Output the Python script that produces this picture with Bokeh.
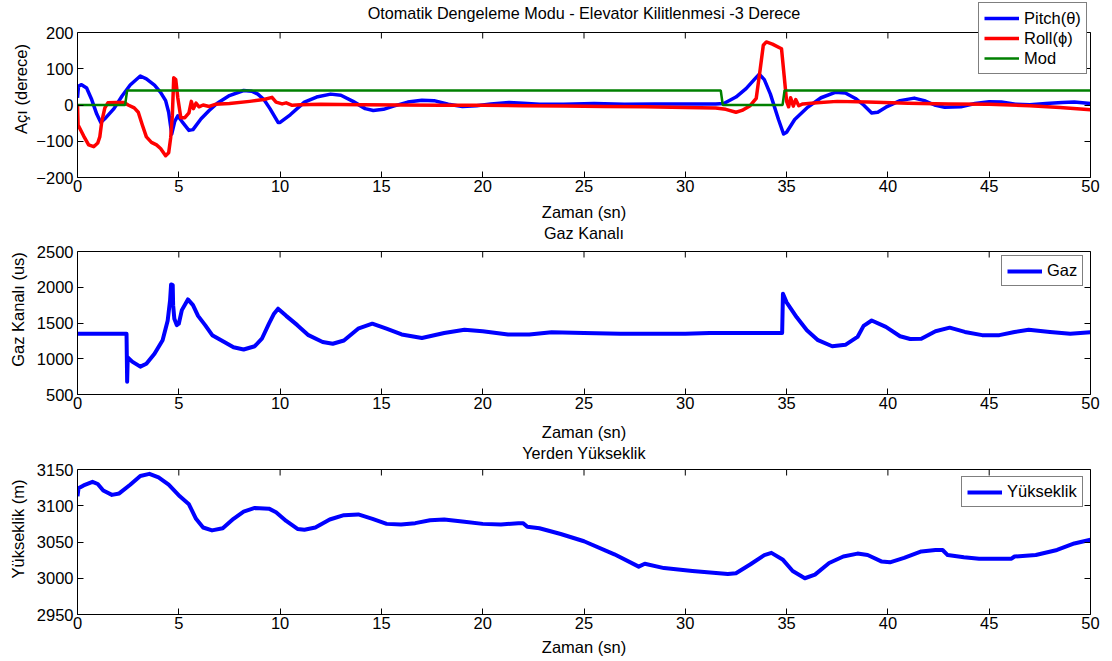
from bokeh.plotting import figure
from bokeh.models import Range1d, LinearAxis, FixedTicker, Legend, LegendItem, Span, Label
from bokeh.layouts import column
from bokeh.embed import file_html
from bokeh.resources import INLINE

FONT = "Liberation Sans"

# ---------------- data ----------------
x_ticks = [0, 5, 10, 15, 20, 25, 30, 35, 40, 45, 50]

pitch_t = [0.0, 0.05, 0.2, 0.45, 0.7, 0.95, 1.15, 1.4, 1.8, 2.2, 2.6, 3.1, 3.4, 3.8, 4.1, 4.35,
           4.5, 4.65, 4.8, 4.95, 5.15, 5.5, 5.7, 6.1, 6.5, 6.9, 7.5, 8.2, 8.6, 8.9, 9.2, 9.5,
           9.9, 10.0, 10.5, 11.2, 11.8, 12.5, 13.0, 13.6, 14.2, 14.6, 15.1, 15.6, 16.3, 17.0,
           17.6, 18.3, 19.0, 19.7, 20.4, 21.3, 22.0, 22.8, 24.0, 25.5, 27.0, 28.5, 30.0, 31.5,
           31.9, 32.5, 33.0, 33.4, 33.65, 33.9, 34.2, 34.6, 34.85, 35.0, 35.4, 36.0, 36.7, 37.4,
           37.9, 38.4, 38.8, 39.2, 39.5, 39.9, 40.6, 41.3, 41.8, 42.3, 42.8, 43.6, 44.3, 45.0,
           45.6, 46.3, 47.0, 47.8, 48.6, 49.2, 50.0]
pitch_v = [20, 52, 56, 47, 15, -25, -48, -35, -10, 25, 55, 80, 72, 55, 35, 12,
           -20, -80, -45, -30, -45, -70, -68, -38, -15, 5, 26, 40, 38, 30, 15, -10,
           -48, -48, -27, 8, 22, 30, 27, 10, -10, -15, -12, -3, 8, 13,
           12, 2, -4, -2, 3, 7, 5, 2, 2, 4, 2, 3, 3, 3,
           4, 22, 45, 70, 85, 70, 30, -40, -80, -75, -40, -8, 20, 35,
           33, 18, 0, -22, -20, -6, 12, 19, 12, 0, -6, -5, 4, 9,
           8, 2, 1, 4, 7, 8, 4]

roll_t = [0.0, 0.03, 0.3, 0.55, 0.8, 1.0, 1.1, 1.2, 1.35, 1.5, 1.9, 2.3, 2.5, 2.8, 3.0, 3.2,
          3.4, 3.65, 3.9, 4.1, 4.35, 4.5, 4.6, 4.68, 4.75, 4.85, 4.95, 5.1, 5.3, 5.5, 5.62,
          5.72, 5.85, 6.0, 6.2, 6.5, 6.8, 7.5, 8.5, 9.2, 9.6, 9.8, 10.1, 10.3, 10.6, 11.0,
          12.0, 14.0, 16.0, 18.0, 20.0, 22.0, 24.0, 26.0, 28.0, 30.0, 31.5, 32.0, 32.5, 32.8,
          33.2, 33.5, 33.7, 33.85, 34.0, 34.3, 34.75, 34.88, 35.0, 35.1, 35.2, 35.33, 35.45,
          35.6, 35.8, 36.5, 37.5, 39.0, 41.0, 43.0, 45.0, 47.0, 48.5, 50.0]
roll_v = [0, -55, -85, -110, -115, -105, -88, -45, -8, 6, 7, 7, 0, -8, -20, -55,
          -88, -103, -110, -120, -140, -132, -90, -30, 75, 70, 20, -35, -35, -22, 10,
          -10, 5, -5, 0, -4, 2, 4, 10, 15, 21, 8, 3, 6, -1, 1,
          2, 1, 0, -1, -1, -2, -3, -4, -5, -7, -8, -12, -20, -15,
          -2, 18, 100, 165, 174, 168, 155, 80, 10, -5, 20, -3, 15,
          -2, 3, 6, 10, 8, 5, 3, 2, -2, -7, -13]

mod_t = [0.0, 2.35, 2.45, 31.75, 31.85, 34.8, 34.9, 50.0]
mod_v = [0, 0, 40, 40, 0, 0, 40, 40]

gaz_t = [0.0, 2.42, 2.45, 2.48, 2.7, 3.1, 3.4, 3.8, 4.2, 4.45, 4.57, 4.62, 4.7, 4.72, 4.78,
         4.9, 5.0, 5.15, 5.45, 5.7, 5.95, 6.3, 6.65, 7.2, 7.7, 8.2, 8.75, 9.1, 9.45, 9.7,
         9.9, 10.3, 10.85, 11.4, 12.1, 12.6, 13.15, 13.85, 14.55, 15.25, 16.0, 17.0, 18.1,
         19.1, 20.0, 21.25, 22.3, 23.4, 25.0, 26.8, 30.0, 31.2, 34.78, 34.82, 35.0, 35.5,
         36.0, 36.55, 37.25, 37.9, 38.5, 38.8, 39.2, 39.9, 40.6, 41.1, 41.65, 42.35, 43.05,
         43.8, 44.65, 45.5, 46.25, 46.95, 48.0, 49.0, 50.0]
gaz_v = [1350, 1350, 680, 1020, 960, 890, 930, 1070, 1260, 1530, 1820, 2040, 2030, 1750, 1560,
         1470, 1490, 1680, 1830, 1750, 1600, 1470, 1330, 1240, 1160, 1130, 1175, 1280, 1490, 1630,
         1700, 1600, 1470, 1330, 1235, 1210, 1255, 1420, 1490, 1420, 1340, 1290, 1360,
         1405, 1385, 1340, 1340, 1370, 1360, 1350, 1350, 1360, 1360, 1910, 1790, 1580,
         1400, 1260, 1175, 1195, 1305, 1460, 1535, 1445, 1315, 1277, 1280, 1385, 1435,
         1375, 1330, 1330, 1375, 1405, 1375, 1350, 1370]

alt_t = [0.0, 0.05, 0.3, 0.74, 1.0, 1.27, 1.7, 2.06, 2.6, 3.1, 3.55, 4.0, 4.5, 5.05, 5.5, 5.85,
         6.2, 6.64, 7.17, 7.7, 8.2, 8.75, 9.45, 9.8, 10.3, 10.86, 11.2, 11.74, 12.45, 13.15,
         13.86, 14.56, 15.26, 15.97, 16.67, 17.4, 18.1, 19.1, 20.0, 20.9, 21.76, 22.0, 22.2,
         22.8, 23.85, 25.0, 26.5, 27.7, 28.0, 28.95, 30.35, 32.1, 32.5, 33.2, 33.9, 34.25,
         34.8, 35.3, 35.9, 36.4, 37.1, 37.8, 38.5, 39.0, 39.7, 40.1, 40.8, 41.65, 42.35,
         42.7, 42.95, 43.75, 44.5, 46.1, 46.25, 47.3, 48.35, 49.2, 50.0]
alt_v = [3113, 3124, 3128, 3133, 3130, 3121, 3115, 3117, 3129, 3141, 3144, 3139, 3129, 3113, 3102, 3082,
         3070, 3066, 3069, 3082, 3092, 3097, 3096, 3091, 3079, 3068, 3067, 3070, 3081, 3087,
         3088, 3082, 3075, 3074, 3076, 3080, 3081, 3078, 3075, 3074, 3076, 3076, 3071,
         3069, 3061, 3051, 3033, 3016, 3020, 3014, 3010, 3006, 3007, 3019, 3032, 3035,
         3026, 3010, 3000, 3005, 3021, 3030, 3034, 3032, 3023, 3022, 3028, 3037, 3039,
         3039, 3032, 3029, 3027, 3027, 3030, 3032, 3039, 3048, 3053]

ang_ticks = [-200, -100, 0, 100, 200]
gaz_ticks = [500, 1000, 1500, 2000, 2500]
alt_ticks = [2950, 3000, 3050, 3100, 3150]

X_RANGE = (0, 50)


def make_fig(head, box_h, bottom, yr, yticks, title, title_y, ylabel,
             xlab_standoff, ylab_standoff):
    """Frame covers the title strip too (head px) so the legend can stand above the box."""
    ymin, ymax = yr
    per_px = (ymax - ymin) / box_h
    ytop = ymax + head * per_px
    p = figure(width=1112, height=head + box_h + bottom, x_range=Range1d(*X_RANGE),
               y_range=Range1d(ymin, ytop),
               output_backend="svg", toolbar_location=None, title=None,
               min_border_left=77, min_border_right=22, min_border_top=0,
               min_border_bottom=bottom)
    p.xgrid.visible = False
    p.ygrid.visible = False
    p.outline_line_color = None
    p.background_fill_color = "white"
    p.border_fill_color = "white"
    p.xaxis.ticker = FixedTicker(ticks=x_ticks)
    p.yaxis.ticker = FixedTicker(ticks=yticks)
    p.yaxis.bounds = (ymin, ymax)
    p.xaxis.axis_label = "Zaman (sn)"
    p.yaxis.axis_label = ylabel
    for ax in p.xaxis + p.yaxis:
        ax.major_tick_in = 6
        ax.major_tick_out = 0
        ax.minor_tick_line_color = None
        ax.axis_line_color = "black"
        ax.major_tick_line_color = "black"
        ax.major_label_text_font = FONT
        ax.major_label_text_font_size = "16.5px"
        ax.major_label_text_color = "black"
        ax.axis_label_text_font = FONT
        ax.axis_label_text_font_size = "16.5px"
        ax.axis_label_text_font_style = "normal"
        ax.axis_label_text_color = "black"
    p.xaxis.major_label_standoff = 2
    p.xaxis.axis_label_standoff = xlab_standoff
    p.yaxis.major_label_standoff = 4
    p.yaxis.axis_label_standoff = ylab_standoff
    # right side of the box, with inward ticks
    ra = LinearAxis(ticker=FixedTicker(ticks=yticks), major_tick_in=6, major_tick_out=0,
                    minor_tick_line_color=None, axis_line_color="black",
                    major_label_text_font_size="1px", major_label_text_color=None,
                    major_label_standoff=0, bounds=(ymin, ymax))
    p.add_layout(ra, "right")
    # top side of the box, with inward ticks
    p.add_layout(Span(location=ymax, dimension="width", line_color="black", line_width=1))
    tick_len = 6 * per_px
    p.segment(x0=x_ticks, y0=[ymax] * len(x_ticks), x1=x_ticks,
              y1=[ymax - tick_len] * len(x_ticks), line_color="black", line_width=1)
    # title
    p.add_layout(Label(x=(X_RANGE[0] + X_RANGE[1]) / 2, y=title_y, x_units="data", y_units="screen",
                       text=title, text_align="center", text_baseline="middle",
                       text_font=FONT, text_font_size="16.2px", text_color="black"))
    return p


def add_legend(p, items, loc, row_h):
    lg = Legend(items=items, location=loc)
    lg.level = "overlay"
    lg.border_line_color = "black"
    lg.border_line_width = 1
    lg.background_fill_color = "white"
    lg.background_fill_alpha = 1.0
    lg.label_text_font = FONT
    lg.label_text_font_size = "16.5px"
    lg.label_text_color = "black"
    lg.glyph_width = 35
    lg.glyph_height = row_h
    lg.label_height = row_h
    lg.spacing = 0
    lg.padding = 5
    lg.margin = 0
    lg.label_standoff = 5
    p.add_layout(lg)


# ---- plot 1 ---- (page rows 0-224, box 32-177)
p1 = make_fig(32, 145, 47, (-200, 200), ang_ticks,
              "Otomatik Dengeleme Modu - Elevator Kilitlenmesi -3 Derece", 165,
              "Açı (derece)", 8, 3)
r_p = p1.line(pitch_t, pitch_v, line_color="#0000FF", line_width=3.5, line_join="round")
r_r = p1.line(roll_t, roll_v, line_color="#FF0000", line_width=3.5, line_join="round")
r_m = p1.line(mod_t, mod_v, line_color="#008000", line_width=2.5)
add_legend(p1, [LegendItem(label="Pitch(θ)", renderers=[r_p]),
                LegendItem(label="Roll(ϕ)", renderers=[r_r]),
                LegendItem(label="Mod", renderers=[r_m])], (901, 103), 20)

# ---- plot 2 ---- (page rows 224-443, box 251-394)
p2 = make_fig(27, 143, 49, (500, 2500), gaz_ticks, "Gaz Kanalı", 162,
              "Gaz Kanalı (us)", 11, 7)
r_g = p2.line(gaz_t, gaz_v, line_color="#0000FF", line_width=4, line_join="round")
add_legend(p2, [LegendItem(label="Gaz", renderers=[r_g])], (924, 108), 18)

# ---- plot 3 ---- (page rows 443-661, box 469-614)
p3 = make_fig(26, 145, 47, (2950, 3150), alt_ticks, "Yerden Yükseklik", 162,
              "Yükseklik (m)", 6, 7)
r_a = p3.line(alt_t, alt_v, line_color="#0000FF", line_width=4, line_join="round")
add_legend(p3, [LegendItem(label="Yükseklik", renderers=[r_a])], (884, 107), 18)

layout = column(p1, p2, p3, spacing=0)
open("out.html", "w").write(file_html(layout, INLINE))
